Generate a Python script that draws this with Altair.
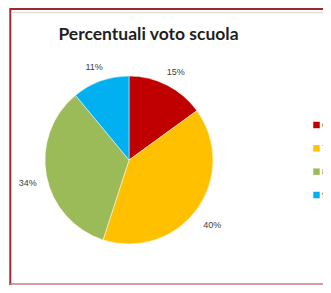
import altair as alt
import pandas as pd

categories = ["6", "7", "8", "9"]
values = [15, 40, 34, 11]
colors = ["#C00000", "#FFC000", "#9BBB59", "#00B0F0"]
title_text = "Percentuali voto scuola"

W, H = 315, 277


def px(v):
    return v - 8


cx, cy, R = px(129), px(160), 84

df = pd.DataFrame({
    "cat": categories,
    "val": values,
    "order": list(range(len(categories))),
    "label": [f"{v}%" for v in values],
})

color_scale = alt.Scale(domain=categories, range=colors)

base = alt.Chart(df)

pie = base.mark_arc(outerRadius=R, stroke="white", strokeWidth=0.5).encode(
    theta=alt.Theta("val:Q", stack=True),
    color=alt.Color("cat:N", scale=color_scale, legend=None),
    order=alt.Order("order:Q"),
    x=alt.value(cx),
    y=alt.value(cy),
)

labels = base.mark_text(radius=103, fontSize=9, color="#404040",
                        font="Liberation Sans", dy=4).encode(
    theta=alt.Theta("val:Q", stack=True),
    text="label:N",
    order=alt.Order("order:Q"),
    x=alt.value(cx),
    y=alt.value(cy),
)

title = alt.Chart(pd.DataFrame({"t": [title_text]})).mark_text(
    fontSize=17.5, fontWeight="bold", font="Lato", color="#1F1F1F",
    align="center", baseline="middle"
).encode(text="t:N", x=alt.value(px(148.5)), y=alt.value(px(35)))

leg_df = pd.DataFrame({"cat": categories, "i": list(range(len(categories)))})
leg_y = alt.Y("i:Q", scale=alt.Scale(domain=[0, 3], range=[px(125), px(195)]), axis=None)
leg_sq = alt.Chart(leg_df).mark_square(size=42, opacity=1).encode(
    x=alt.value(px(316.5)),
    y=leg_y,
    color=alt.Color("cat:N", scale=color_scale, legend=None),
)
leg_tx = alt.Chart(leg_df).mark_text(align="left", baseline="middle", fontSize=9,
                                     color="#404040").encode(
    x=alt.value(px(322)),
    y=leg_y,
    text="cat:N",
)

border_df = pd.DataFrame({"k": [0]})
top_line = alt.Chart(border_df).mark_rule(color="#9E2A2F", strokeWidth=2).encode(
    x=alt.value(px(10)), x2=alt.value(W), y=alt.value(1)
)
grey_line = alt.Chart(border_df).mark_rule(color="#DDDDDD", strokeWidth=1.5).encode(
    x=alt.value(px(12)), x2=alt.value(W), y=alt.value(px(12.5))
)
left_line = alt.Chart(border_df).mark_rule(color="#9E2A2F", strokeWidth=2).encode(
    x=alt.value(px(10.3)), y=alt.value(0), y2=alt.value(H)
)
bottom_line = alt.Chart(border_df).mark_rule(color="#C97B7E", strokeWidth=1.5).encode(
    x=alt.value(px(10)), x2=alt.value(W), y=alt.value(H - 1)
)

chart = alt.layer(
    pie, labels, title, leg_sq, leg_tx, top_line, grey_line, left_line, bottom_line
).properties(
    width=W, height=H, autosize=alt.AutoSizeParams(type="none"), padding=0,
    background="white",
).configure_view(stroke=None)

chart.save("out.html", embed_options={"renderer": "svg", "actions": False})
